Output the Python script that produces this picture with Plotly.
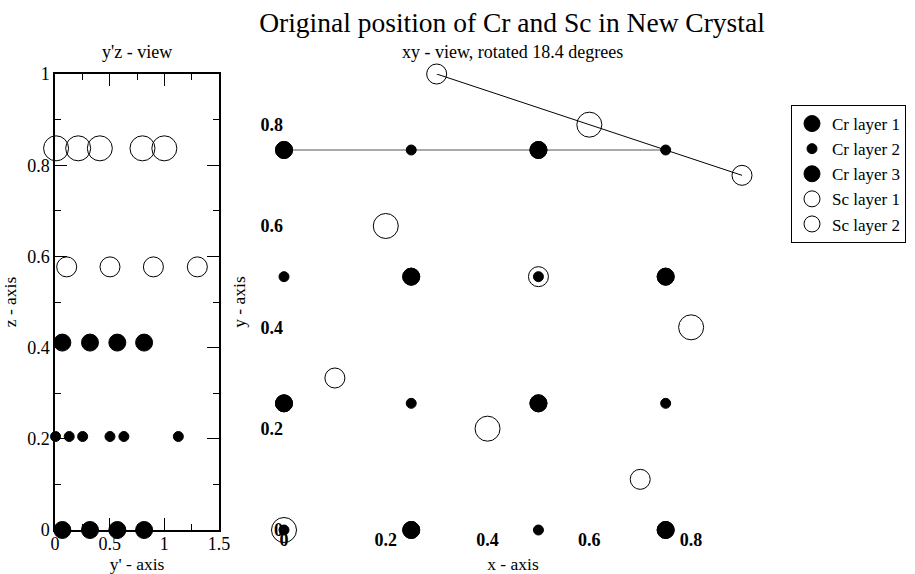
import plotly.graph_objects as go

W, H = 915, 574
FONT = "Liberation Serif, Times New Roman, serif"

# ---------------- data: y'z - view (left panel) ----------------
cr1_yp = [0.067, 0.32, 0.57, 0.815]
cr1_z = [0.0, 0.0, 0.0, 0.0]
cr2_yp = [0.005, 0.13, 0.253, 0.503, 0.63, 1.128]
cr2_z = [0.205, 0.205, 0.205, 0.205, 0.205, 0.205]
cr3_yp = [0.067, 0.32, 0.57, 0.815]
cr3_z = [0.411, 0.411, 0.411, 0.411]
sc1_yp = [0.107, 0.503, 0.9, 1.302]
sc1_z = [0.577, 0.577, 0.577, 0.577]
sc2_yp = [0.01, 0.212, 0.41, 0.80, 1.0]
sc2_z = [0.837, 0.837, 0.837, 0.837, 0.837]

# ---------------- data: xy - view (right panel) ----------------
cr13_x = [0.0, 0.5, 0.25, 0.75, 0.0, 0.5, 0.25, 0.75]
cr13_y = [0.75, 0.75, 0.5, 0.5, 0.25, 0.25, 0.0, 0.0]
cr2_x = [0.25, 0.75, 0.0, 0.5, 0.25, 0.75, 0.0, 0.5]
cr2_y = [0.75, 0.75, 0.5, 0.5, 0.25, 0.25, 0.0, 0.0]
sc1_x = [0.3, 0.9, 0.5, 0.1, 0.7]
sc1_y = [0.9, 0.7, 0.5, 0.3, 0.1]
sc2_x = [0.6, 0.2, 0.8, 0.4, 0.0]
sc2_y = [0.8, 0.6, 0.4, 0.2, 0.0]
base_line_x = [0.0, 0.75]
base_line_y = [0.75, 0.75]
rot_line_x = [0.3, 0.9]
rot_line_y = [0.9, 0.7]

left_ticks = [0, 0.5, 1, 1.5]
left_ztick = [0, 0.2, 0.4, 0.6, 0.8, 1]
right_ticks = [0, 0.2, 0.4, 0.6, 0.8]

layers = [
    ("Cr layer 1", "circle", 17, cr1_yp, cr1_z, cr13_x, cr13_y),
    ("Cr layer 2", "circle", 10, cr2_yp, cr2_z, cr2_x, cr2_y),
    ("Cr layer 3", "circle", 17, cr3_yp, cr3_z, cr13_x, cr13_y),
    ("Sc layer 1", "circle-open", 20, sc1_yp, sc1_z, sc1_x, sc1_y),
    ("Sc layer 2", "circle-open", 25, sc2_yp, sc2_z, sc2_x, sc2_y),
]

fig = go.Figure()

# lines in xy view (drawn first, under the markers)
fig.add_trace(go.Scatter(x=base_line_x, y=base_line_y, mode="lines",
                         line=dict(color="#555555", width=1), cliponaxis=False,
                         xaxis="x2", yaxis="y2", showlegend=False, hoverinfo="skip"))
fig.add_trace(go.Scatter(x=rot_line_x, y=rot_line_y, mode="lines",
                         line=dict(color="black", width=1), cliponaxis=False,
                         xaxis="x2", yaxis="y2", showlegend=False, hoverinfo="skip"))

for name, sym, size, yp, z, x, y in layers:
    mk = dict(symbol=sym, size=size, color="black", line=dict(color="black", width=1))
    fig.add_trace(go.Scatter(x=yp, y=z, mode="markers", marker=mk, name=name,
                             legendgroup=name, showlegend=True, cliponaxis=False,
                             xaxis="x", yaxis="y"))
    fig.add_trace(go.Scatter(x=x, y=y, mode="markers", marker=mk, name=name,
                             legendgroup=name, showlegend=False, cliponaxis=False,
                             xaxis="x2", yaxis="y2"))

ydom = [44 / H, 500 / H]
fs = 18
tfont = dict(family=FONT, size=17.5, color="black")
fig.update_layout(
    width=W, height=H,
    margin=dict(l=0, r=0, t=0, b=0, autoexpand=False),
    paper_bgcolor="white", plot_bgcolor="white",
    font=dict(family=FONT, size=fs, color="black"),
    title=dict(text="Original position of Cr and Sc in New Crystal",
               x=512 / W, xanchor="center", y=1 - 22 / H, yanchor="middle",
               font=dict(family=FONT, size=27.5, color="black")),
    xaxis=dict(domain=[55 / W, 219 / W], range=[0, 1.5], tickvals=left_ticks,
               ticktext=[f"{v:g}" for v in left_ticks],
               showline=True, linecolor="black", linewidth=1.5, mirror="allticks",
               ticks="inside", ticklen=12, tickwidth=1, tickcolor="black",
               minor=dict(dtick=0.25, ticks="inside", ticklen=6, tickwidth=1, tickcolor="black"),
               showgrid=False, zeroline=False, ticklabelstandoff=-3,
               title=dict(text="y' - axis", font=tfont)),
    yaxis=dict(domain=ydom, range=[0, 1], tickvals=left_ztick,
               ticktext=[f"{v:g}" for v in left_ztick],
               showline=True, linecolor="black", linewidth=1.5, mirror="allticks",
               ticks="inside", ticklen=12, tickwidth=1, tickcolor="black",
               minor=dict(dtick=0.1, ticks="inside", ticklen=6, tickwidth=1, tickcolor="black"),
               showgrid=False, zeroline=False,
               title=dict(text="z - axis", standoff=8, font=tfont)),
    xaxis2=dict(domain=[284 / W, 742 / W], range=[0, 0.9], tickvals=right_ticks,
                ticktext=[f"{v:g}" for v in right_ticks],
                showline=False, ticks="", showgrid=False, zeroline=False,
                ticklabelstandoff=-3,
                tickfont=dict(family=FONT, size=fs, weight="bold"),
                title=dict(text="x - axis", font=tfont), anchor="y2"),
    yaxis2=dict(domain=ydom, range=[0, 0.9], tickvals=right_ticks,
                ticktext=[f"{v:g}" for v in right_ticks],
                showline=False, ticks="", showgrid=False, zeroline=False,
                tickfont=dict(family=FONT, size=fs, weight="bold"),
                title=dict(text="y - axis", standoff=10, font=tfont), anchor="x2"),
    legend=dict(x=791 / W, y=1 - 105 / H, xanchor="left", yanchor="top",
                bordercolor="black", borderwidth=1, bgcolor="white",
                font=dict(family=FONT, size=17, color="black"),
                tracegroupgap=0),
    annotations=[
        dict(text="y'z - view", x=137 / W, y=1 - 52 / H, xref="paper", yref="paper",
             showarrow=False, xanchor="center", yanchor="middle",
             font=dict(family=FONT, size=fs)),
        dict(text="xy - view, rotated 18.4 degrees", x=512 / W, y=1 - 52 / H,
             xref="paper", yref="paper", showarrow=False, xanchor="center",
             yanchor="middle", font=dict(family=FONT, size=fs)),
    ],
)

fig.write_html("out.html")
